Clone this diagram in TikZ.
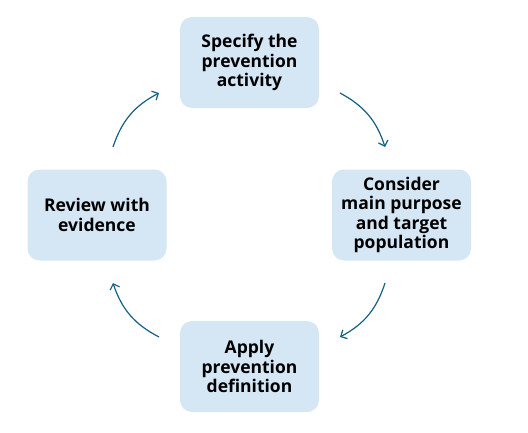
\documentclass[tikz,border=0pt]{standalone}
\usepackage{fontspec}
\setmainfont{Open Sans}
\usetikzlibrary{arrows.meta}
\definecolor{boxfill}{HTML}{D5E6F5}
\definecolor{arrowcol}{HTML}{156082}
\begin{document}
\begin{tikzpicture}[x=1pt,y=-1pt,
  stepbox/.style={fill=boxfill, rounded corners=12pt, minimum width=139pt, minimum height=91pt,
    align=center, font=\fontsize{17.5}{19.3}\selectfont\bfseries, inner sep=0pt},
  cyc/.style={draw=arrowcol, line width=1.2pt, -{Straight Barb[length=5pt,width=10pt,line width=1.2pt]}, bend left=22}]
\useasboundingbox (0,0) rectangle (528,432);
\node[stepbox] (spec) at (249.5,62.5) {Specify the\\prevention\\activity};
\node[stepbox] (cons) at (401.5,215) {Consider\\main purpose\\and target\\population};
\node[stepbox] (appl) at (249.5,366.5) {Apply\\prevention\\definition};
\node[stepbox] (revi) at (97,215) {Review with\\evidence};
\coordinate (a1) at (340,93);
\coordinate (a2) at (385,147);
\coordinate (b1) at (385,283);
\coordinate (b2) at (340,337);
\coordinate (c1) at (159,337);
\coordinate (c2) at (113,283);
\coordinate (d1) at (113,147);
\coordinate (d2) at (159,93);
\draw[cyc] (a1) to (a2);
\draw[cyc] (b1) to (b2);
\draw[cyc] (c1) to (c2);
\draw[cyc] (d1) to (d2);
\end{tikzpicture}
\end{document}
